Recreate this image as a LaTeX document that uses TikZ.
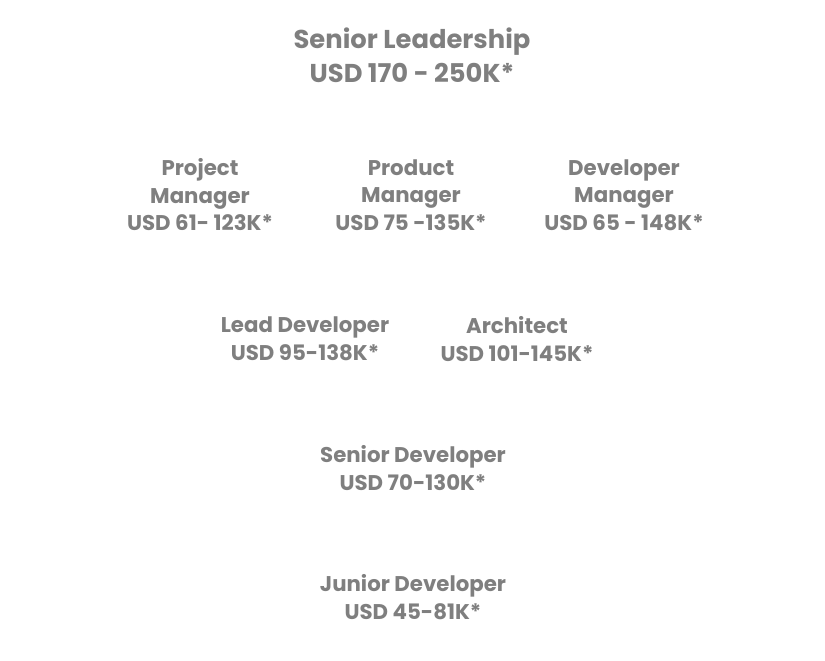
\documentclass[tikz,border=0pt]{standalone}
\usepackage{fontspec}
\setmainfont{Poppins}
\usetikzlibrary{positioning}
\definecolor{titlegray}{HTML}{7F7F7F}

\begin{document}
\begin{tikzpicture}[
    x=1pt, y=-1pt,
    role/.style={align=center, text=titlegray, inner sep=0pt,
        font=\fontsize{21.3}{27.5}\selectfont\bfseries},
    toprole/.style={role, font=\fontsize{25.8}{34}\selectfont\bfseries}
]
    \useasboundingbox (0,0) rectangle (825,661);

    \node[toprole] (lead) at (412,55) {Senior Leadership\\USD 170 - 250K*};

    \node[role] (pm)  at (200,195) {Project\\Manager\\USD 61- 123K*};
    \node[role] (prm) at (411,195) {Product\\Manager\\USD 75 -135K*};
    \node[role] (dm)  at (624,195) {Developer\\Manager\\USD 65 - 148K*};

    \node[role] (ld)   at (305,339) {Lead Developer\\USD 95-138K*};
    \node[role] (arch) at (517,339) {Architect\\USD 101-145K*};

    \node[role] (sd) at (413,468) {Senior Developer\\USD 70-130K*};
    \node[role] (jd) at (413,597) {Junior Developer\\USD 45-81K*};
\end{tikzpicture}
\end{document}
